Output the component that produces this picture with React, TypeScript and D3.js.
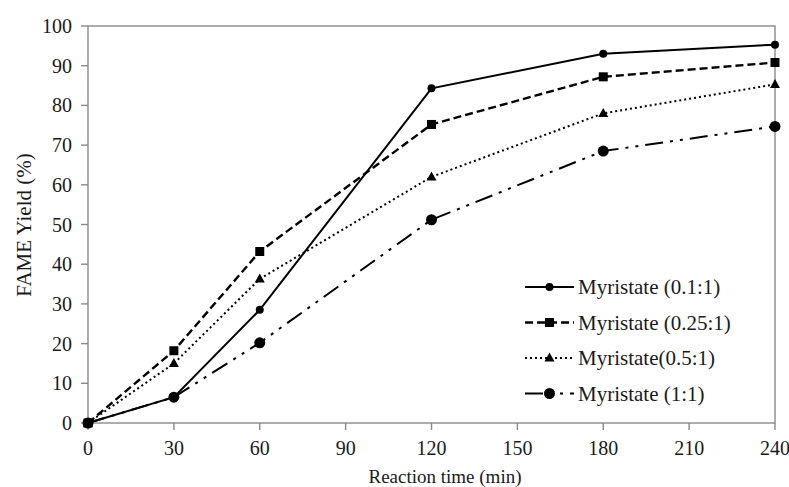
import * as d3 from "d3";
import { useEffect, useRef } from "react";

const times = [0, 30, 60, 120, 180, 240];
const xTicks = [0, 30, 60, 90, 120, 150, 180, 210, 240];
const yTicks = [0, 10, 20, 30, 40, 50, 60, 70, 80, 90, 100];

const seriesNames = ["Myristate (0.1:1)", "Myristate (0.25:1)", "Myristate(0.5:1)", "Myristate (1:1)"];
const yield01 = [0, 6.5, 28.5, 84.3, 93, 95.3];
const yield025 = [0, 18.2, 43.2, 75.2, 87.2, 90.8];
const yield05 = [0, 15, 36.3, 62, 78, 85.3];
const yield1 = [0, 6.5, 20.2, 51.2, 68.5, 74.7];

const width = 789;
const height = 487;

export default function App() {
    const ref = useRef<SVGSVGElement | null>(null);

    useEffect(() => {
        if (!ref.current) return;
        const svg = d3.select(ref.current);
        svg.selectAll("*").remove();

        const left = 88, right = 775, top = 26, bottom = 423;
        const x = d3.scaleLinear().domain([0, 240]).range([left, right]);
        const y = d3.scaleLinear().domain([0, 100]).range([bottom, top]);
        const font = "Liberation Serif";
        const axisColor = "#8a8a8a";
        const textColor = "#1a1a1a";

        // frame
        svg.append("rect")
            .attr("x", left).attr("y", top)
            .attr("width", right - left).attr("height", bottom - top)
            .attr("fill", "none").attr("stroke", axisColor).attr("stroke-width", 1.4);

        // y ticks
        yTicks.forEach(t => {
            svg.append("line")
                .attr("x1", left - 7).attr("x2", left)
                .attr("y1", y(t)).attr("y2", y(t))
                .attr("stroke", axisColor).attr("stroke-width", 1.4);
            svg.append("text")
                .attr("x", left - 16).attr("y", y(t) + 7)
                .attr("text-anchor", "end")
                .style("font-family", font).style("font-size", "20px")
                .attr("fill", textColor)
                .text(t);
        });

        // x ticks
        xTicks.forEach(t => {
            svg.append("line")
                .attr("x1", x(t)).attr("x2", x(t))
                .attr("y1", bottom).attr("y2", bottom + 7)
                .attr("stroke", axisColor).attr("stroke-width", 1.4);
            svg.append("text")
                .attr("x", x(t)).attr("y", 455)
                .attr("text-anchor", "middle")
                .style("font-family", font).style("font-size", "20px")
                .attr("fill", textColor)
                .text(t);
        });

        svg.append("text")
            .attr("x", 445).attr("y", 483)
            .attr("text-anchor", "middle")
            .style("font-family", font).style("font-size", "19px")
            .attr("fill", textColor)
            .text("Reaction time (min)");

        svg.append("text")
            .attr("transform", `translate(31,225) rotate(-90)`)
            .attr("text-anchor", "middle")
            .style("font-family", font).style("font-size", "21px")
            .attr("fill", textColor)
            .text("FAME Yield (%)");

        const series = [
            { name: seriesNames[0], values: yield01, dash: null, marker: "circle", size: 4, width: 2 },
            { name: seriesNames[1], values: yield025, dash: "8,4", marker: "square", size: 9, width: 2.4 },
            { name: seriesNames[2], values: yield05, dash: "2,3", marker: "triangle", size: 10, width: 2 },
            { name: seriesNames[3], values: yield1, dash: "18,7,3,7,3,7", marker: "circle", size: 5.5, width: 2 },
        ];

        const line = d3.line<number>()
            .x((_, i) => x(times[i]))
            .y(d => y(d));

        const drawMarker = (g: d3.Selection<SVGGElement, unknown, null, undefined>, kind: string, size: number, cx: number, cy: number) => {
            if (kind === "circle") {
                g.append("circle").attr("cx", cx).attr("cy", cy).attr("r", size).attr("fill", "#000");
            } else if (kind === "square") {
                g.append("rect").attr("x", cx - size / 2).attr("y", cy - size / 2)
                    .attr("width", size).attr("height", size).attr("fill", "#000");
            } else {
                const h = size * 0.9;
                g.append("path")
                    .attr("d", `M${cx},${cy - h * 0.6}L${cx + size / 2},${cy + h * 0.4}L${cx - size / 2},${cy + h * 0.4}Z`)
                    .attr("fill", "#000");
            }
        };

        const plot = svg.append("g");
        series.forEach(s => {
            plot.append("path")
                .attr("d", line(s.values)!)
                .attr("fill", "none")
                .attr("stroke", "#000")
                .attr("stroke-width", s.width)
                .attr("stroke-dasharray", s.dash ?? "none");
            s.values.forEach((v, i) => drawMarker(plot, s.marker, s.size, x(times[i]), y(v)));
        });

        // legend
        const legend = svg.append("g");
        const lx0 = 525, lx1 = 574, ly0 = 287, step = 35.5;
        series.forEach((s, i) => {
            const ly = ly0 + i * step;
            legend.append("line")
                .attr("x1", lx0).attr("x2", lx1)
                .attr("y1", ly).attr("y2", ly)
                .attr("stroke", "#000")
                .attr("stroke-width", s.width)
                .attr("stroke-dasharray", s.dash ?? "none");
            drawMarker(legend, s.marker, s.size, (lx0 + lx1) / 2, ly);
            legend.append("text")
                .attr("x", lx1 + 4).attr("y", ly + 7)
                .style("font-family", font).style("font-size", "21px")
                .attr("fill", textColor)
                .text(s.name);
        });
    }, []);

    return (
        <svg
            ref={ref}
            width={width}
            height={height}
            style={{ position: "absolute", left: 0, top: 0, background: "#fff" }}
        />
    );
}
